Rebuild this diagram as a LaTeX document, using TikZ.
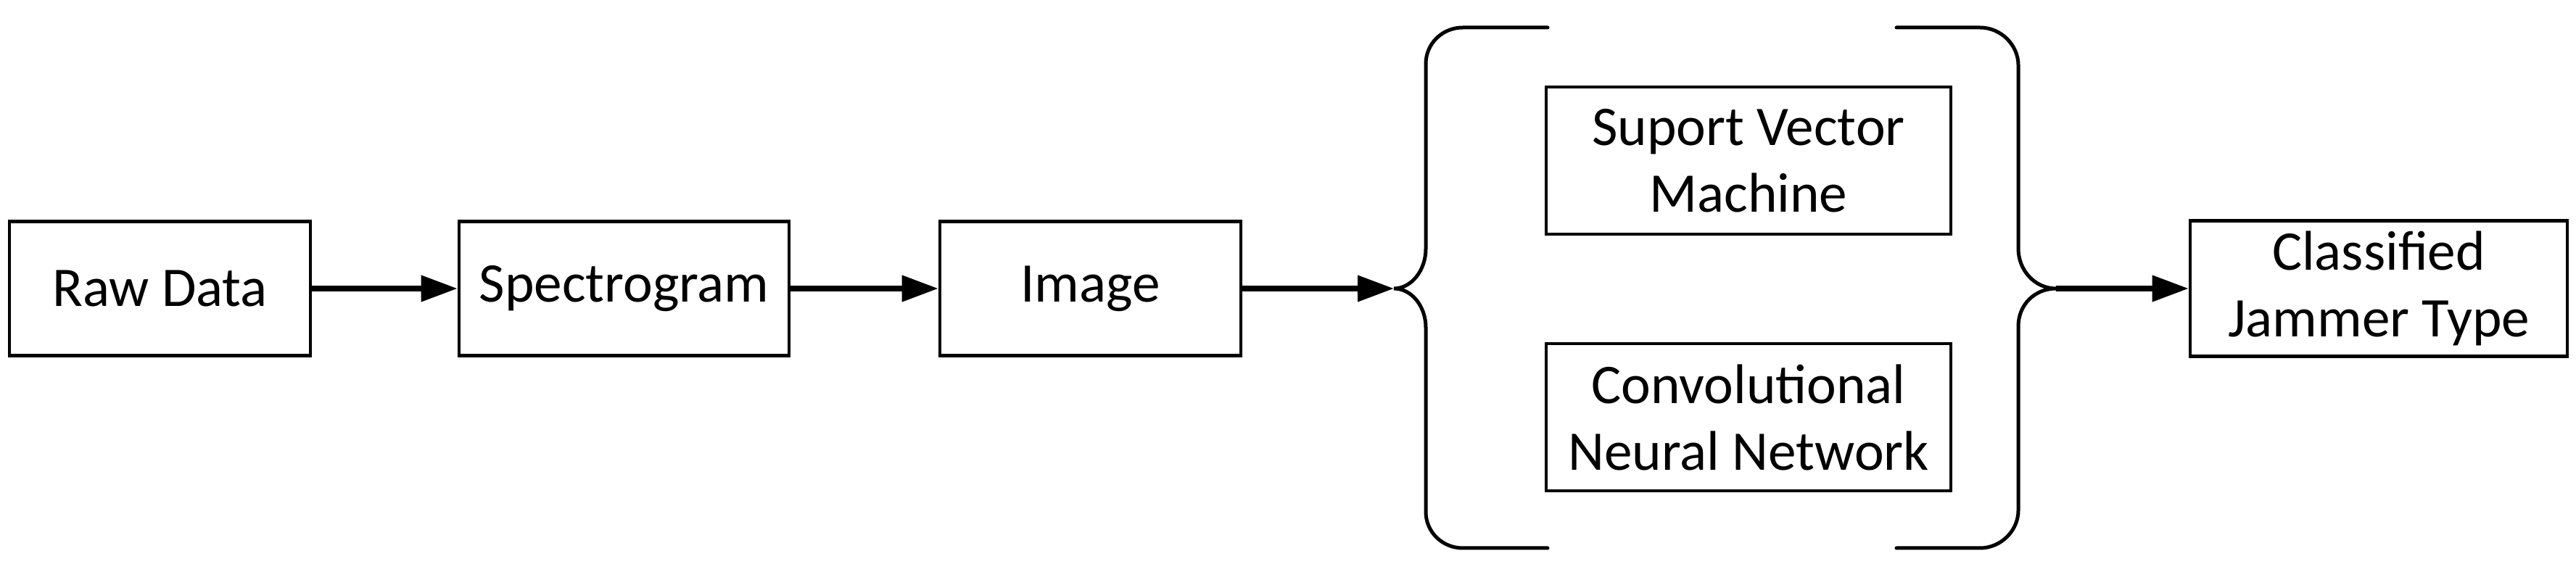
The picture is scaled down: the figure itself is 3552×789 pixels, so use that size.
\documentclass[tikz,border=0pt]{standalone}
\usepackage{fontspec}
\setmainfont{Carlito}
\usetikzlibrary{arrows.meta}
\begin{document}
\begin{tikzpicture}[x=0.25pt,y=-0.25pt,
  blk/.style={draw=black,line width=1.15pt,rectangle,align=center,inner sep=0pt,
    font=\fontsize{19.3pt}{23pt}\selectfont},
  conn/.style={line width=1.8pt,-{Triangle[length=12.5pt,width=8.75pt]}},
  brace/.style={line width=1.25pt,line cap=round}]
\useasboundingbox (0,0) rectangle (3552,789);
\node[blk,minimum width=103.75pt,minimum height=46.25pt] (raw) at (220.5,398) {Raw Data};
\node[blk,minimum width=113.75pt,minimum height=46.25pt] (spec) at (860.5,398) {Spectrogram};
\node[blk,minimum width=103.75pt,minimum height=46.25pt] (img) at (1503.5,398) {Image};
\node[blk,minimum width=139.5pt,minimum height=50.75pt] (svm) at (2411,221.5) {Suport Vector\\Machine};
\node[blk,minimum width=139.5pt,minimum height=50.75pt] (cnn) at (2411,575.5) {Convolutional\\Neural Network};
\node[blk,minimum width=130pt,minimum height=46.75pt] (cls) at (3280,398) {Classified\\Jammer Type};
\coordinate (lb) at (1922,398);
\coordinate (rb) at (2835,398);
% left brace
\draw[brace] (2134,38) -- (2017,38) .. controls (1989,38) and (1966,60) .. (1966,88)
  -- (1966,343) .. controls (1966,373) and (1946,398) .. (lb)
  .. controls (1946,398) and (1966,422) .. (1966,452)
  -- (1966,706) .. controls (1966,734) and (1989,756) .. (2017,756) -- (2134,756);
% right brace
\draw[brace] (2615,38) -- (2730,38) .. controls (2759,38) and (2783,62) .. (2783,90)
  -- (2783,343) .. controls (2783,373) and (2806,398) .. (rb)
  .. controls (2806,398) and (2783,420) .. (2783,450)
  -- (2783,704) .. controls (2783,732) and (2759,756) .. (2730,756) -- (2615,756);
\draw[conn] (raw.east) -- (spec.west);
\draw[conn] (spec.east) -- (img.west);
\draw[conn] (img.east) -- (lb);
\draw[conn] (rb) -- (cls.west);
\end{tikzpicture}
\end{document}
